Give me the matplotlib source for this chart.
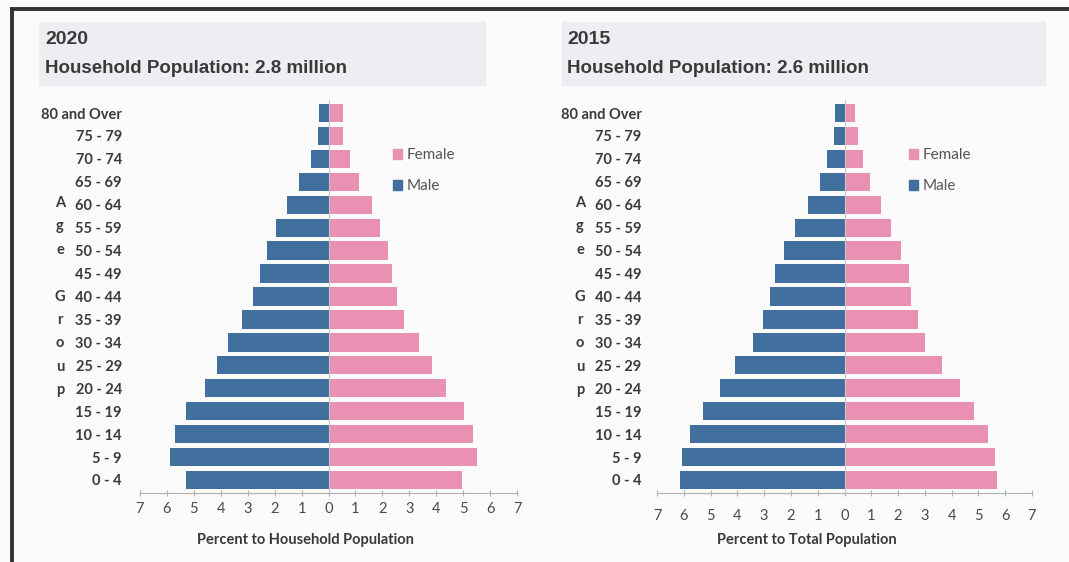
import numpy as np
import matplotlib.pyplot as plt
from matplotlib.patches import Rectangle, Patch
from matplotlib.lines import Line2D
from matplotlib.ticker import FuncFormatter

age_groups = ['0 - 4', '5 - 9', '10 - 14', '15 - 19', '20 - 24', '25 - 29', '30 - 34',
              '35 - 39', '40 - 44', '45 - 49', '50 - 54', '55 - 59', '60 - 64',
              '65 - 69', '70 - 74', '75 - 79', '80 and Over']

male_2020 = [5.3, 5.9, 5.7, 5.3, 4.6, 4.15, 3.75, 3.2, 2.8, 2.55, 2.3, 1.95, 1.55, 1.1, 0.65, 0.4, 0.35]
female_2020 = [4.95, 5.5, 5.35, 5.05, 4.35, 3.85, 3.35, 2.8, 2.55, 2.35, 2.2, 1.9, 1.6, 1.15, 0.8, 0.55, 0.55]
male_2015 = [6.15, 6.05, 5.75, 5.3, 4.65, 4.1, 3.4, 3.05, 2.8, 2.6, 2.25, 1.85, 1.35, 0.9, 0.65, 0.4, 0.35]
female_2015 = [5.7, 5.6, 5.35, 4.85, 4.3, 3.65, 3.0, 2.75, 2.5, 2.4, 2.1, 1.75, 1.35, 0.95, 0.7, 0.5, 0.4]

x_ticks = list(range(-7, 8))

MALE = '#41709e'
FEMALE = '#e891b3'
TXT = '#3a3a3a'
W, H = 1069, 562

fig = plt.figure(figsize=(W / 100, H / 100), dpi=100, facecolor='#fbfbfb')


def fx(px):
    return px / W


def fy(py):
    return 1 - py / H


# scan frame
fig.add_artist(Line2D([fx(12), 1], [fy(9), fy(9)], color='#333333', lw=2.8))
fig.add_artist(Line2D([fx(12), fx(12)], [fy(9), 0], color='#333333', lw=2.8))


def pyramid(left_px, right_px, male, female, year, total, xlabel, xlabel_x,
            ylab_pad, tick_pad, letters_x, title_x, box):
    ax = fig.add_axes([fx(left_px), fy(493), fx(right_px - left_px), (493 - 100) / H])
    ax.set_facecolor('none')
    y = np.arange(len(age_groups))
    ax.barh(y, [-m for m in male], height=0.8, color=MALE, label='Male')
    ax.barh(y, female, height=0.8, color=FEMALE, label='Female')
    ax.axvline(0, color='#c8c8c8', lw=0.8)
    ax.set_xlim(-7, 7)
    ax.set_ylim(-0.57, len(age_groups) - 1 + 0.57)
    ax.set_xticks(x_ticks)
    ax.xaxis.set_major_formatter(FuncFormatter(lambda v, p: '%d' % abs(v)))
    ax.set_yticks(y)
    ax.set_yticklabels(age_groups, fontfamily='Lato', fontweight='bold',
                       fontsize=10.5, color=TXT)
    ax.tick_params(axis='y', length=0, pad=ylab_pad)
    ax.tick_params(axis='x', direction='inout', length=5, color='#b0b0b0',
                   labelsize=10.5, labelcolor='#4a4a4a', pad=tick_pad)
    for lbl in ax.get_xticklabels():
        lbl.set_fontfamily('Lato')
    for s in ['top', 'right', 'left']:
        ax.spines[s].set_visible(False)
    ax.spines['bottom'].set_color('#b0b0b0')

    handles = [Patch(color=FEMALE, label='Female'), Patch(color=MALE, label='Male')]
    leg = ax.legend(handles=handles, loc='center left', bbox_to_anchor=(0.635, 0.82),
                    frameon=False, handlelength=0.6, handleheight=0.6,
                    handletextpad=0.3, labelspacing=1.1,
                    prop={'family': 'Lato', 'size': 11})
    for t in leg.get_texts():
        t.set_color('#555555')

    # title box
    fig.add_artist(Rectangle((fx(box[0]), fy(85)), fx(box[1] - box[0]), (85 - 22) / H,
                             color='#eceef1', zorder=0))
    fig.text(fx(title_x), fy(40), year, fontfamily='Liberation Sans', fontweight='bold',
             fontsize=14, color=TXT, va='center')
    fig.text(fx(title_x), fy(68), 'Household Population: %s million' % total,
             fontfamily='Liberation Sans', fontweight='bold', fontsize=13.5,
             color=TXT, va='center')

    # stacked "Age Group" label
    for k, ch in enumerate('Age Group'):
        if ch != ' ':
            fig.text(fx(letters_x), fy(203 + k * 23.4), ch, fontfamily='Lato',
                     fontweight='bold', fontsize=10.5, color=TXT, ha='center', va='center')

    fig.text(fx(xlabel_x), fy(540), xlabel, fontfamily='Lato', fontweight='bold',
             fontsize=10.5, color=TXT, ha='center', va='center')
    return ax


pyramid(140, 517, male_2020, female_2020, '2020', '2.8', 'Percent to Household Population',
        305, 13, 4, 60, 45, (39, 485))
pyramid(657, 1032, male_2015, female_2015, '2015', '2.6', 'Percent to Total Population',
        807, 11, 9, 580, 567, (562, 1045))

fig.savefig('out.png', dpi=100, facecolor=fig.get_facecolor())
